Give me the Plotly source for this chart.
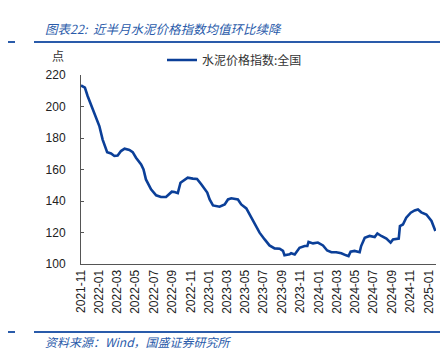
import plotly.graph_objects as go

dates = [
    "2021-11-01", "2021-11-14", "2021-11-23", "2021-12-16", "2022-01-01", "2022-01-12",
    "2022-01-18", "2022-01-27", "2022-02-09", "2022-02-20", "2022-03-03", "2022-03-14",
    "2022-03-26", "2022-04-11", "2022-04-22", "2022-05-03", "2022-05-20", "2022-05-28",
    "2022-06-05", "2022-06-22", "2022-07-09", "2022-07-25", "2022-08-11", "2022-08-22",
    "2022-08-30", "2022-09-08", "2022-09-19", "2022-09-28", "2022-10-11", "2022-10-22",
    "2022-11-08", "2022-11-22", "2022-12-06", "2022-12-17", "2022-12-26", "2023-01-03",
    "2023-01-14", "2023-02-05", "2023-02-22", "2023-03-05", "2023-03-16", "2023-04-07",
    "2023-04-18", "2023-05-05", "2023-05-21", "2023-06-07", "2023-06-18", "2023-07-05",
    "2023-07-21", "2023-08-07", "2023-08-24", "2023-09-04", "2023-09-09", "2023-09-26",
    "2023-10-01", "2023-10-13", "2023-10-29", "2023-11-15", "2023-11-24", "2023-11-28",
    "2023-12-13", "2023-12-29", "2024-01-15", "2024-01-29", "2024-02-12", "2024-02-28",
    "2024-03-16", "2024-04-01", "2024-04-09", "2024-04-16", "2024-04-29", "2024-05-16",
    "2024-05-21", "2024-06-02", "2024-06-18", "2024-07-05", "2024-07-14", "2024-07-27",
    "2024-08-13", "2024-08-27", "2024-09-04", "2024-09-23", "2024-09-27", "2024-10-07",
    "2024-10-18", "2024-11-02", "2024-11-15", "2024-11-26", "2024-12-07", "2024-12-24",
    "2025-01-10", "2025-01-23",
]
cement_index = [
    213.4, 212.0, 206.7, 196.0, 187.6, 179.0,
    175.3, 171.0, 170.2, 168.6, 168.9, 171.7,
    173.2, 172.4, 171.0, 167.5, 163.2, 160.0,
    153.7, 147.4, 143.6, 142.5, 142.5, 144.2,
    145.9, 145.7, 145.0, 151.6, 153.1, 154.8,
    154.2, 154.0, 150.6, 147.4, 145.4, 141.0,
    137.2, 136.4, 137.8, 141.0, 141.7, 141.0,
    137.8, 135.3, 129.4, 123.7, 119.9, 115.6,
    111.8, 109.9, 109.7, 108.3, 105.5, 106.1,
    106.8, 106.0, 110.3, 111.4, 111.4, 114.0,
    113.1, 113.6, 111.8, 108.6, 107.5, 107.5,
    106.8, 105.5, 105.0, 107.8, 108.3, 107.5,
    111.4, 116.7, 117.8, 117.1, 119.4, 117.8,
    116.1, 113.6, 115.6, 116.1, 124.1, 125.1,
    129.4, 132.6, 134.0, 134.6, 132.8, 131.4,
    127.3, 121.0,
]
series_name = "水泥价格指数:全国"
y_ticks = [100, 120, 140, 160, 180, 200, 220]
title_text = "图表22:  近半月水泥价格指数均值环比续降"
source_text = "资料来源：Wind，国盛证券研究所"
unit_text = "点"

W, H = 448, 355
L, R, T, B = 73, 20, 67, 99
pw = W - L - R
ph = H - T - B

def px(x):
    return (x - L) / pw

def py(y):
    return 1 - (y - T) / ph

fig = go.Figure()
fig.add_trace(go.Scatter(
    x=dates, y=cement_index, mode="lines", name=series_name,
    line=dict(color="#0B3F98", width=2.6),
))

blue = "#2A5BAA"
cjk = "Noto Sans CJK SC"
shapes = []
for yy in (34, 324):
    shapes.append(dict(type="line", xref="paper", yref="paper",
                       x0=px(0), x1=px(7), y0=py(yy), y1=py(yy),
                       line=dict(color=blue, width=2)))
    shapes.append(dict(type="line", xref="paper", yref="paper",
                       x0=px(26), x1=px(442), y0=py(yy), y1=py(yy),
                       line=dict(color=blue, width=2)))

annotations = [
    dict(text="<i>" + title_text + "</i>", xref="paper", yref="paper",
         x=px(35), y=py(20), xanchor="left", yanchor="middle", showarrow=False,
         font=dict(family=cjk, size=12.5, color=blue)),
    dict(text="<i>" + source_text + "</i>", xref="paper", yref="paper",
         x=px(35), y=py(333), xanchor="left", yanchor="middle", showarrow=False,
         font=dict(family=cjk, size=12, color=blue)),
    dict(text=unit_text, xref="paper", yref="paper",
         x=px(50), y=py(47), xanchor="center", yanchor="middle", showarrow=False,
         font=dict(family=cjk, size=12, color="#333333")),
]

fig.update_layout(
    width=W, height=H,
    margin=dict(l=L, r=R, t=T, b=B),
    paper_bgcolor="white", plot_bgcolor="white",
    showlegend=True,
    legend=dict(x=px(154), y=py(52), xanchor="left", yanchor="middle",
                orientation="h", font=dict(family=cjk, size=12, color="#333333"),
                bgcolor="rgba(0,0,0,0)", itemwidth=30),
    shapes=shapes, annotations=annotations,
    xaxis=dict(
        type="date", range=["2021-11-01", "2025-01-25"],
        tick0="2021-11-01", dtick="M2", tickformat="%Y-%m", tickangle=-90,
        showgrid=False, zeroline=False, showline=True, linecolor="#555555", linewidth=1,
        ticks="", tickfont=dict(family="Liberation Sans", size=12, color="#222222"),
    ),
    yaxis=dict(
        range=[100, 220], tickvals=y_ticks, showgrid=False, zeroline=False,
        showline=True, linecolor="#555555", linewidth=1, ticks="inside", ticklen=3,
        tickcolor="#555555", ticklabelstandoff=12,
        tickfont=dict(family="Liberation Sans", size=12, color="#222222"),
    ),
)

fig.write_html("out.html")
